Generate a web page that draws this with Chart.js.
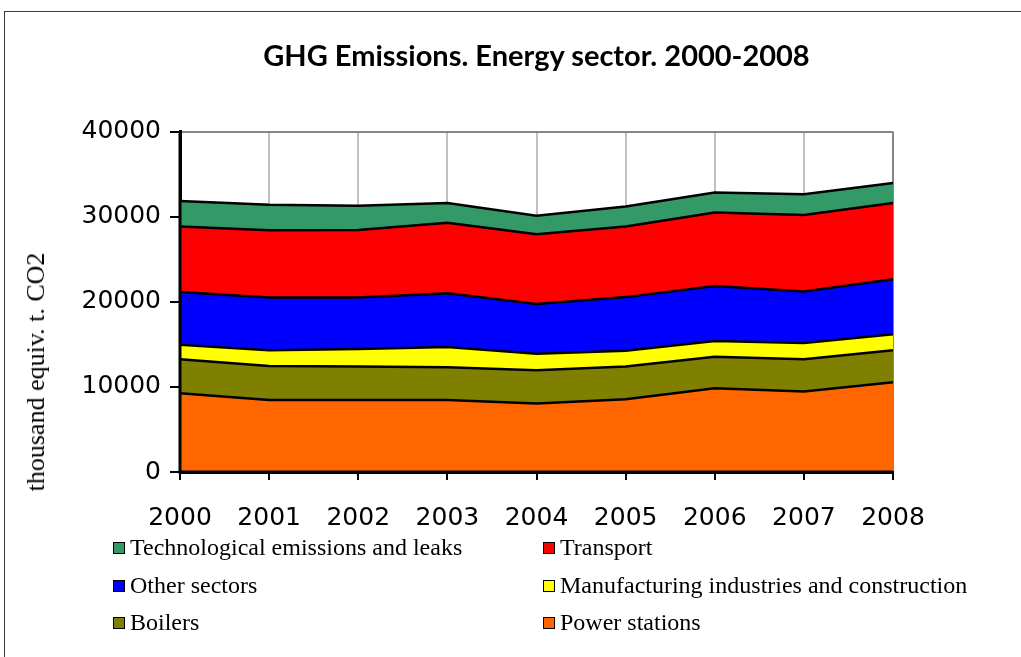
<!DOCTYPE html>
<html>
<head>
<meta charset="utf-8">
<title>GHG Emissions. Energy sector. 2000-2008</title>
<script src="https://cdn.jsdelivr.net/npm/chart.js@4/dist/chart.umd.min.js"></script>
<style>
  html, body { margin: 0; padding: 0; background: #fff; }
  #wrap { position: relative; width: 1021px; height: 657px; overflow: hidden; }
  #frame {
    position: absolute; left: 4px; top: 11px; width: 1100px; height: 700px;
    border: 1.5px solid #3a3a3a; box-sizing: border-box;
  }
  #chart { position: absolute; left: 0; top: 0; }
  #title {
    position: absolute; left: 180px; width: 713px; top: 37px;
    text-align: center; font: bold 29px Lato, "Open Sans", sans-serif;
    color: #000;
  }
  #ytitle {
    position: absolute; left: 36px; top: 372px; white-space: nowrap;
    transform: translate(-50%, -50%) rotate(-90deg);
    font: 26px "Liberation Serif", "Times New Roman", serif; color: #000;
  }
  #legend {
    position: absolute; left: 113px; top: 530px;
    font: 24px "Liberation Serif", "Times New Roman", serif; color: #000;
  }
  .item { position: absolute; white-space: nowrap; line-height: 34px; height: 34px; }
  .box {
    display: inline-block; width: 10px; height: 10px; border: 1.5px solid #000;
    margin-right: 5px; vertical-align: 1px;
  }
</style>
</head>
<body>
<div id="wrap">
  <div id="frame"></div>
  <canvas id="chart" width="1021" height="657"></canvas>
  <div id="title">GHG Emissions. Energy sector. 2000-2008</div>
  <div id="ytitle">thousand equiv. t. CO2</div>
  <div id="legend"></div>
</div>
<script>
// ---------- DATA (thousand t CO2 eq.) ----------
const years = ["2000", "2001", "2002", "2003", "2004", "2005", "2006", "2007", "2008"];

const powerStations = [9250, 8450, 8450, 8450, 8050, 8550, 9850, 9450, 10550];
const boilers       = [4000, 4000, 3950, 3850, 3900, 3850, 3700, 3800, 3750];
const manufacturing = [1700, 1850, 2050, 2400, 1950, 1850, 1850, 1900, 1900];
const otherSectors  = [6200, 6200, 6050, 6300, 5850, 6300, 6450, 6050, 6450];
const transport     = [7700, 7900, 7950, 8300, 8200, 8300, 8650, 9000, 8950];
const technological = [3000, 3000, 2850, 2300, 2150, 2350, 2350, 2450, 2350];

const yTicks = [0, 10000, 20000, 30000, 40000];

// bottom -> top stacking order
const series = [
  { label: "Power stations", data: powerStations, color: "#FF6600" },
  { label: "Boilers", data: boilers, color: "#808000" },
  { label: "Manufacturing industries and construction", data: manufacturing, color: "#FFFF00" },
  { label: "Other sectors", data: otherSectors, color: "#0000FF" },
  { label: "Transport", data: transport, color: "#FF0000" },
  { label: "Technological emissions and leaks", data: technological, color: "#339966" },
];

// legend: two columns, top item is the last series
const legendOrder = [5, 4, 3, 2, 1, 0];

// ---------- AXIS LINES ON TOP OF THE AREAS ----------
const axisFrame = {
  id: "axisFrame",
  afterDatasetsDraw(chart) {
    const { ctx, chartArea } = chart;
    ctx.save();
    ctx.strokeStyle = "#000";
    ctx.lineWidth = 3;
    ctx.beginPath();
    ctx.moveTo(chartArea.left, chartArea.top);
    ctx.lineTo(chartArea.left, chartArea.bottom);
    ctx.lineTo(chartArea.right, chartArea.bottom);
    ctx.stroke();
    ctx.restore();
  },
};

const chart = new Chart(document.getElementById("chart"), {
  type: "line",
  data: {
    labels: years,
    datasets: series.map((s, i) => ({
      label: s.label,
      data: s.data,
      backgroundColor: s.color,
      borderColor: "#000",
      borderWidth: 2.5,
      fill: i === 0 ? "origin" : "-1",
      tension: 0,
      pointRadius: 0,
    })),
  },
  options: {
    responsive: false,
    animation: false,
    devicePixelRatio: 1,
    layout: { padding: { left: 12, right: 128, top: 131.6, bottom: 125 } },
    plugins: {
      legend: { display: false },
      title: { display: false },
      tooltip: { enabled: false },
    },
    scales: {
      x: {
        offset: false,
        afterFit: (s) => { s.height = 60; },
        grid: {
          color: (c) => (c.index === years.length - 1 ? "#868686" : "#c0c0c0"),
          lineWidth: 2,
          tickColor: "#000",
          tickLength: 8,
        },
        border: { color: "#000", width: 3 },
        ticks: {
          color: "#000",
          padding: 23,
          maxRotation: 0,
          font: { family: "DejaVu Sans", size: 25 },
        },
      },
      y: {
        stacked: true,
        min: 0,
        max: 40000,
        afterFit: (s) => { s.width = 168; },
        afterBuildTicks: (s) => { s.ticks = yTicks.map((v) => ({ value: v })); },
        grid: {
          color: (c) => (c.tick && c.tick.value === 40000 ? "#868686" : "rgba(0,0,0,0)"),
          lineWidth: 2,
          tickColor: "#000",
          tickLength: 10,
        },
        border: { color: "#000", width: 3 },
        ticks: {
          color: "#000",
          padding: 9,
          callback: (v) => String(v),
          font: { family: "DejaVu Sans", size: 25 },
        },
      },
    },
  },
  plugins: [axisFrame],
});

// ---------- HTML LEGEND ----------
const legendEl = document.getElementById("legend");
legendOrder.forEach((idx, n) => {
  const ds = chart.data.datasets[idx];
  const item = document.createElement("div");
  item.className = "item";
  item.style.left = (n % 2 === 0 ? 0 : 430) + "px";
  item.style.top = Math.floor(n / 2) * 37.5 + "px";
  const box = document.createElement("span");
  box.className = "box";
  box.style.background = ds.backgroundColor;
  item.appendChild(box);
  item.appendChild(document.createTextNode(ds.label));
  legendEl.appendChild(item);
});
</script>
</body>
</html>
